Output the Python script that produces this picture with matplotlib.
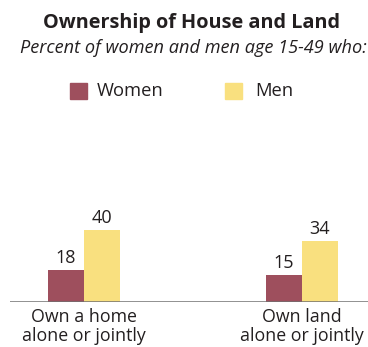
import matplotlib.pyplot as plt
import numpy as np

plt.rcParams['font.family'] = ['Open Sans', 'DejaVu Sans']

categories = ["Own a home\nalone or jointly", "Own land\nalone or jointly"]
women = [18, 15]
men = [40, 34]

WOMEN_COLOR = "#9E4F5D"
MEN_COLOR = "#F9E07F"
TEXT_COLOR = "#231F20"

fig = plt.figure(figsize=(3.68, 3.47), dpi=100)
ax = fig.add_axes([10 / 368, 45 / 347, 358 / 368, 108 / 347])

x = np.arange(len(categories))
w = 0.165
ax.bar(x - w / 2, women, w, color=WOMEN_COLOR)
ax.bar(x + w / 2, men, w, color=MEN_COLOR)

for xi, v in zip(x - w / 2, women):
    ax.text(xi, v + 1.5, str(v), ha="center", va="bottom", fontsize=13, color=TEXT_COLOR)
for xi, v in zip(x + w / 2, men):
    ax.text(xi, v + 1.5, str(v), ha="center", va="bottom", fontsize=13, color=TEXT_COLOR)

ax.set_xlim(-0.339, 1.303)
ax.set_ylim(0, 60)
ax.axhline(0, color="#707070", lw=1.8)
ax.set_xticks(x)
ax.set_xticklabels(categories, fontsize=12.8, color=TEXT_COLOR, linespacing=1.1)
ax.tick_params(axis="x", length=0, pad=4)
ax.set_yticks([])
for s in ax.spines.values():
    s.set_visible(False)
ax.patch.set_visible(False)

fig.text(192 / 368, 1 - 23 / 347, "Ownership of House and Land", ha="center", va="center",
         fontsize=14.3, fontweight="bold", color=TEXT_COLOR)
fig.text(193 / 368, 1 - 48 / 347, "Percent of women and men age 15-49 who:", ha="center", va="center",
         fontsize=13.1, style="italic", color=TEXT_COLOR)

# legend drawn by hand
fig.patches.append(plt.Rectangle((70 / 368, 1 - 99 / 347), 17 / 368, 16 / 347,
                                 transform=fig.transFigure, color=WOMEN_COLOR))
fig.text(97 / 368, 1 - 91 / 347, "Women", ha="left", va="center", fontsize=13.2, color=TEXT_COLOR)
fig.patches.append(plt.Rectangle((225 / 368, 1 - 99 / 347), 17 / 368, 16 / 347,
                                 transform=fig.transFigure, color=MEN_COLOR))
fig.text(255 / 368, 1 - 91 / 347, "Men", ha="left", va="center", fontsize=13.2, color=TEXT_COLOR)

fig.savefig("out.png", dpi=100)
